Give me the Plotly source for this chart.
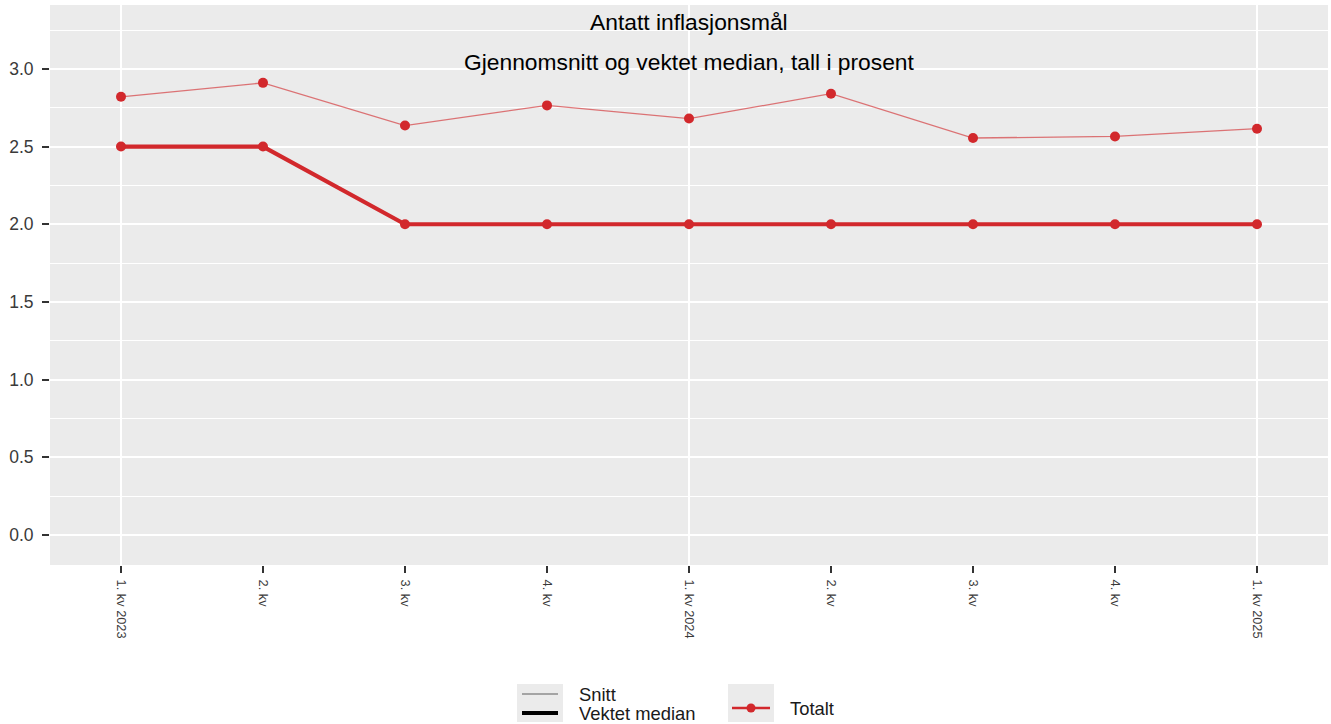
import plotly.graph_objects as go

# ---- data ----
quarters = ["1. kv 2023", "2. kv", "3. kv", "4. kv", "1. kv 2024",
            "2. kv", "3. kv", "4. kv", "1. kv 2025"]
snitt = [2.82, 2.91, 2.635, 2.765, 2.68, 2.84, 2.555, 2.565, 2.615]
vektet_median = [2.5, 2.5, 2.0, 2.0, 2.0, 2.0, 2.0, 2.0, 2.0]
y_ticks = [0.0, 0.5, 1.0, 1.5, 2.0, 2.5, 3.0]

title = "Antatt inflasjonsmål"
subtitle = "Gjennomsnitt og vektet median, tall i prosent"
legend_type = ["Snitt", "Vektet median"]
legend_group = "Totalt"

# ---- style ----
W, H = 1331, 724
ML, MR, MT, MB = 50, 3, 5, 159
PW, PH = W - ML - MR, H - MT - MB
RED = "#D2282C"
RED_THIN = "rgba(210,40,44,0.62)"
PANEL = "#EBEBEB"
FONT = "Liberation Sans, Arial, sans-serif"
TICKCOL = "#3A3A3A"

def px(x):
    return (x - ML) / PW

def py(y):
    return (H - MB - y) / PH

x_idx = list(range(len(quarters)))

fig = go.Figure()
fig.add_trace(go.Scatter(
    x=x_idx, y=snitt, mode="lines+markers", name="Snitt",
    line=dict(color=RED_THIN, width=1.3),
    marker=dict(color=RED, size=10), showlegend=False))
fig.add_trace(go.Scatter(
    x=x_idx, y=vektet_median, mode="lines+markers", name="Vektet median",
    line=dict(color=RED, width=4.2),
    marker=dict(color=RED, size=10), showlegend=False))

shapes = []
# vertical major gridlines at year starts
for i, lab in enumerate(quarters):
    if any(ch.isdigit() for ch in lab.split("kv")[-1]):
        shapes.append(dict(type="line", xref="x", yref="paper", x0=i, x1=i,
                           y0=0, y1=1, layer="below",
                           line=dict(color="white", width=2)))

# manual legend
shapes.append(dict(type="rect", xref="paper", yref="paper",
                   x0=px(517), x1=px(563), y0=py(722), y1=py(684),
                   fillcolor=PANEL, line=dict(width=0)))
shapes.append(dict(type="line", xref="paper", yref="paper",
                   x0=px(522), x1=px(558), y0=py(694), y1=py(694),
                   line=dict(color="#8C8C8C", width=1.5)))
shapes.append(dict(type="line", xref="paper", yref="paper",
                   x0=px(522), x1=px(558), y0=py(713), y1=py(713),
                   line=dict(color="black", width=4)))
shapes.append(dict(type="rect", xref="paper", yref="paper",
                   x0=px(728), x1=px(774), y0=py(722), y1=py(684),
                   fillcolor=PANEL, line=dict(width=0)))
shapes.append(dict(type="line", xref="paper", yref="paper",
                   x0=px(732), x1=px(770), y0=py(708), y1=py(708),
                   line=dict(color=RED, width=2.5)))
shapes.append(dict(type="circle", xref="paper", yref="paper",
                   xsizemode="pixel", ysizemode="pixel",
                   xanchor=px(751), yanchor=py(708),
                   x0=-4.5, x1=4.5, y0=-4.5, y1=4.5,
                   fillcolor=RED, line=dict(width=0)))

annotations = [
    dict(text=title, xref="paper", yref="paper", x=px(689), y=py(22),
         xanchor="center", yanchor="middle", showarrow=False,
         font=dict(family=FONT, size=22.8, color="black")),
    dict(text=subtitle, xref="paper", yref="paper", x=px(689), y=py(62),
         xanchor="center", yanchor="middle", showarrow=False,
         font=dict(family=FONT, size=22.8, color="black")),
    dict(text=legend_type[0], xref="paper", yref="paper", x=px(577), y=py(694),
         xanchor="left", yanchor="middle", showarrow=False,
         font=dict(family=FONT, size=18.4, color="#1A1A1A")),
    dict(text=legend_type[1], xref="paper", yref="paper", x=px(577), y=py(713),
         xanchor="left", yanchor="middle", showarrow=False,
         font=dict(family=FONT, size=18.4, color="#1A1A1A")),
    dict(text=legend_group, xref="paper", yref="paper", x=px(788), y=py(708),
         xanchor="left", yanchor="middle", showarrow=False,
         font=dict(family=FONT, size=18.4, color="#1A1A1A")),
]

fig.update_layout(
    width=W, height=H,
    margin=dict(l=ML, r=MR, t=MT, b=MB, pad=0),
    paper_bgcolor="white", plot_bgcolor=PANEL,
    showlegend=False,
    shapes=shapes, annotations=annotations,
    font=dict(family=FONT),
)
fig.update_xaxes(
    range=[-0.5, 8.5], tickmode="array", tickvals=x_idx, ticktext=quarters,
    tickangle=90, tickfont=dict(family=FONT, size=12.8, color=TICKCOL),
    ticks="outside", ticklen=7, tickwidth=2, tickcolor="#333333",
    ticklabelstandoff=4,
    showgrid=False, zeroline=False, showline=False, fixedrange=True,
)
fig.update_yaxes(
    range=[-0.193, 3.411], tickmode="array", tickvals=y_ticks,
    ticktext=[f"{v:.1f}" for v in y_ticks],
    tickfont=dict(family=FONT, size=17.5, color=TICKCOL),
    ticks="outside", ticklen=7, tickwidth=2, tickcolor="#333333",
    ticklabelstandoff=5,
    showgrid=True, gridcolor="white", gridwidth=2,
    minor=dict(dtick=0.25, tick0=0, showgrid=True, gridcolor="white",
               gridwidth=1.2, ticks=""),
    zeroline=False, showline=False, fixedrange=True,
)

fig.write_html(
    "out.html",
    config={"displayModeBar": False},
    post_script="document.body.style.margin='0';document.body.style.overflow='hidden';",
)
